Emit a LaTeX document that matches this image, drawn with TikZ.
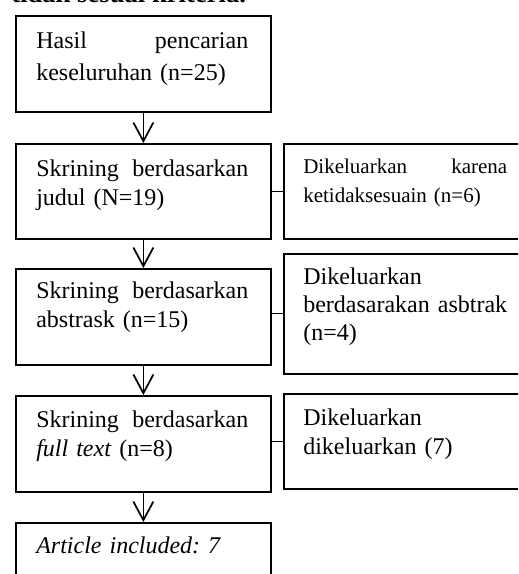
\documentclass[tikz,border=0pt]{standalone}
\usepackage{fontspec}
\setmainfont{Liberation Serif}
\frenchspacing
\usetikzlibrary{arrows.meta}
\tikzset{
  box/.style={draw, line width=1.3pt, rectangle, inner sep=0pt, anchor=north west},
  txt/.style={inner sep=0pt, anchor=base west, align=left},
  big/.style={font=\frenchspacing\fontsize{18pt}{21.75pt}\selectfont},
  small/.style={font=\frenchspacing\fontsize{15.75pt}{21.75pt}\selectfont},
  flow/.style={line width=1.3pt, -{Straight Barb[length=14pt,width=15pt,line width=1.3pt]}},
  link/.style={line width=0.8pt}
}
\begin{document}
\begin{tikzpicture}[x=0.75pt,y=-0.75pt]
\useasboundingbox (0,0) rectangle (518,574);
\clip (0,0) rectangle (518,574);
% heading (cut off at top)
\node[inner sep=0pt, anchor=base west, font=\bfseries\fontsize{20pt}{24pt}\selectfont] (head) at (11,3) {tidak sesuai kriteria.};
% left boxes
\node[box, minimum width=191.25pt, minimum height=72pt] (b1) at (15,15) {};
\node[box, minimum width=191.25pt, minimum height=71.25pt] (b2) at (15,143) {};
\node[box, minimum width=191.25pt, minimum height=72pt] (b3) at (15,268) {};
\node[box, minimum width=191.25pt, minimum height=72pt] (b4) at (15,395) {};
\node[box, minimum width=191.25pt, minimum height=66pt] (b5) at (15,522) {};
% right boxes
\node[box, minimum width=185.25pt, minimum height=71.25pt] (r2) at (283,143) {};
\node[box, minimum width=185.25pt, minimum height=90pt] (r3) at (283,253) {};
\node[box, minimum width=185.25pt, minimum height=71.25pt] (r4) at (283,393) {};
% texts
\node[txt, text width=159pt, font=\frenchspacing\fontsize{18pt}{24pt}\selectfont] (t1) at (36,49) {Hasil\hfill pencarian\\keseluruhan (n=25)};
\node[txt, big, text width=159pt] (t2) at (36,176) {Skrining\hfill berdasarkan\\judul (N=19)};
\node[txt, big, text width=159pt] (t3) at (36,298) {Skrining\hfill berdasarkan\\abstrask (n=15)};
\node[txt, big, text width=159pt] (t4) at (36,427) {Skrining\hfill berdasarkan\\\textit{full text} (n=8)};
\node[txt, big, text width=159pt] (t5) at (36,553) {\textit{Article included: 7}};
\node[txt, small, text width=153pt] (u2) at (303,173) {Dikeluarkan\hfill karena\\ketidaksesuain (n=6)};
\node[txt, text width=160pt, font=\frenchspacing\fontsize{18pt}{21pt}\selectfont] (u3) at (303,284) {Dikeluarkan\\berdasarakan asbtrak\\(n=4)};
\node[txt, big, text width=160pt] (u4) at (303,425) {Dikeluarkan\\dikeluarkan (7)};
% arrows
\draw[flow] (b1.south) -- (b2.north);
\draw[flow] (b2.south) -- (b3.north);
\draw[flow] (b3.south) -- (b4.north);
\draw[flow] (b4.south) -- (b5.north);
% side links
\draw[link] (b2.east) -- (r2.west);
\draw[link] (b3.east |- r3.west) -- (r3.west);
\draw[link] (b4.east |- r4.west) -- (r4.west);
\end{tikzpicture}
\end{document}
